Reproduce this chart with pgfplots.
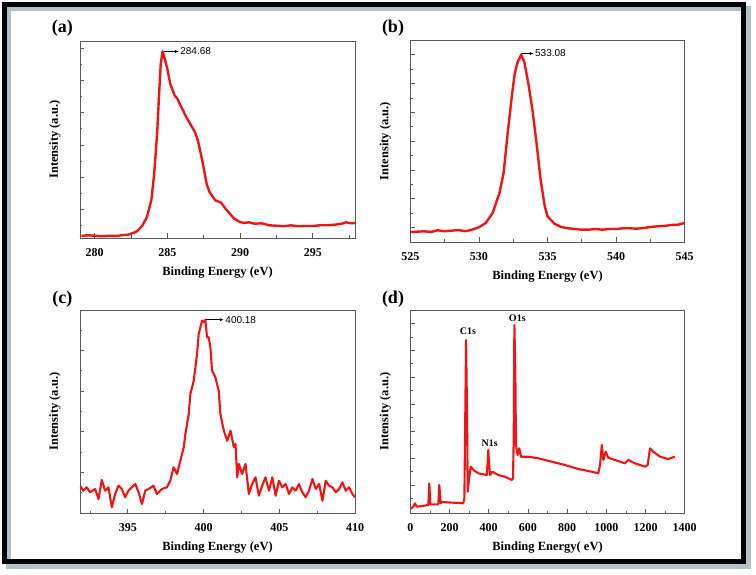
\documentclass[border=0pt]{standalone}
\usepackage{fontspec}
\setmainfont{Liberation Serif}
\newfontfamily\arialfont{Liberation Sans}
\usepackage{pgfplots}
\pgfplotsset{compat=1.18}
\usetikzlibrary{arrows.meta}
\definecolor{xpsred}{RGB}{240,20,20}
\definecolor{framegray}{RGB}{90,90,90}
\definecolor{shadowc}{RGB}{175,195,200}
\newcommand{\lblfont}{\fontsize{12.5}{13}\selectfont\bfseries}
\newcommand{\tckfont}{\fontsize{12}{13}\selectfont\bfseries}
\pgfplotsset{
  xpspanel/.style={
    scale only axis,
    anchor=south west,
    axis line style={draw=framegray, line width=0.9pt},
    tick style={draw=framegray, line width=0.8pt},
    tick align=inside,
    tick pos=left,
    major tick length=4.5pt,
    minor tick length=2.5pt,
    yticklabels={},
    /pgf/number format/assume math mode=true,
    /pgf/number format/1000 sep={},
    xticklabel={\tckfont\pgfmathprintnumber{\tick}},
    xticklabel style={anchor=center, yshift=-15pt},
    xlabel style={at={(axis description cs:0.5,0)}, anchor=center, yshift=-35pt},
    ylabel style={at={(axis description cs:0,0.5)}, anchor=center, yshift=25pt},
    xlabel={\lblfont Binding Energy (eV)},
    ylabel={\lblfont Intensity (a.u.)},
    clip=true,
  },
  xpsline/.style={xpsred, line width=2.4pt, line join=round, no marks},
}
\begin{document}
\begin{tikzpicture}[x=1pt,y=1pt]
\useasboundingbox (0pt,0pt) rectangle (756pt,574pt);
% outer frame
\draw[shadowc, line width=5pt] (8.5pt,8pt) rectangle (748pt,565pt);
\draw[black, line width=5.5pt] (4.3pt,12.5pt) rectangle (743.5pt,569.7pt);

% ---------------- (a) ----------------
\begin{axis}[xpspanel, at={(80pt,336pt)}, width=275pt, height=197pt,
  xmin=279, xmax=297.9, ymin=0, ymax=197,
  xtick={280,285,290,295}, minor xtick={282.5,287.5,292.5,297.5},
  ytick={28.3,60.6,92.9,125.2,157.5,189.8},
  minor ytick={12.2,44.5,76.8,109.1,141.4,173.7}]
\addplot[xpsline] coordinates {
(279.1,2) (279.5,2.7) (280,2.3) (280.5,1.7) (281,2.3) (281.5,2) (282,3) (282.3,3.3)
(282.5,4.3) (282.8,5.7) (283,7.7) (283.3,12.7) (283.6,21) (283.9,37.7) (284.1,64.3)
(284.3,104.3) (284.45,147.7) (284.55,174.3) (284.68,186.7) (284.85,177.7) (285.0,169.3)
(285.2,154.3) (285.5,142.7) (285.7,139) (285.9,132.7) (286.1,127) (286.3,121) (286.5,116)
(286.7,111) (286.9,106) (287.1,97.7) (287.4,77.7) (287.7,54.3) (287.9,46) (288.3,37.7)
(288.7,35.3) (289.0,29.3) (289.3,24.3) (289.6,19.3) (289.9,16.7) (290.0,16) (290.3,15)
(290.6,15.7) (291,14.3) (291.5,14.7) (292,12.7) (292.5,12.3) (293,11.7) (293.5,12.7)
(294,11.7) (294.5,12) (295,12) (295.5,12.7) (296,12.7) (296.5,13.3) (297,14.3)
(297.3,15.7) (297.6,14.7) (297.9,15)
};
\draw[-{Latex[length=4pt,width=3pt]}, black, line width=0.6pt] (axis cs:284.75,186.5) -- (axis cs:285.8,186.5);
\node[anchor=west, inner sep=0.5pt, font=\arialfont\fontsize{10}{10}\selectfont] at (axis cs:285.85,186.5) {284.68};
\end{axis}

% ---------------- (b) ----------------
\begin{axis}[xpspanel, at={(410.3pt,332pt)}, width=274.4pt, height=202pt,
  xmin=525, xmax=545, ymin=0, ymax=202,
  xtick={525,530,535,540,545}, minor xtick={527.5,532.5,537.5,542.5},
  ytick={14.3,43.1,71.9,100.7,129.5,158.3,187.1},
  minor ytick={28.7,57.5,86.3,115.1,143.9,172.7}]
\addplot[xpsline] coordinates {
(525,10) (525.5,10.3) (526,10.7) (526.5,10) (527,11.7) (527.5,10.7) (528,11.3) (528.5,12)
(529,10.7) (529.5,12.3) (530,14.7) (530.5,19) (531,29) (531.5,49) (531.8,69) (532.1,109)
(532.4,145.7) (532.6,167.3) (532.8,179) (533.08,187.3) (533.3,180.7) (533.6,159)
(533.9,132.3) (534.2,99) (534.5,62.3) (534.8,35.7) (535,25.7) (535.5,18.3) (536,15)
(536.5,13.7) (537,13) (537.5,12.3) (538,12.3) (538.5,13) (539,12.3) (539.5,13) (540,13)
(540.5,13.7) (541,13.7) (541.5,13.3) (542,14) (542.5,15) (543,15.7) (543.5,16) (544,17)
(544.5,17.3) (545,19)
};
\draw[-{Latex[length=4pt,width=3pt]}, black, line width=0.6pt] (axis cs:533.1,188.5) -- (axis cs:534.0,188.5);
\node[anchor=west, inner sep=0.5pt, font=\arialfont\fontsize{10}{10}\selectfont] at (axis cs:534.05,188.5) {533.08};
\end{axis}

% ---------------- (c) ----------------
\begin{axis}[xpspanel, at={(80pt,61pt)}, width=275pt, height=203pt,
  xmin=391.84, xmax=410, ymin=0, ymax=203,
  xtick={395,400,405,410}, minor xtick={392.5,397.5,402.5,407.5},
  ytick={40.7,81.3,122,162.6},
  minor ytick={20.3,61,101.7,142.3,182.9}]
\addplot[xpsline, line width=2.1pt] coordinates {
(391.84,27.3) (392.06,22.3) (392.28,25.7) (392.51,20.7) (392.84,24) (393.06,14) (393.28,33)
(393.50,22.3) (393.72,25.7) (393.94,5.7) (394.16,19) (394.38,27.3) (394.60,24) (394.82,15.7)
(395.04,22.3) (395.26,25.7) (395.49,29) (395.71,20.7) (395.93,9) (396.15,22.3) (396.37,24)
(396.70,27.3) (396.92,19) (397.25,24) (397.58,25.7) (397.80,32.3) (398.02,45.7) (398.25,39)
(398.47,52.3) (398.69,65.7) (398.80,79) (399.02,99) (399.13,119) (399.35,132.3) (399.57,159)
(399.68,179) (399.79,185.7) (399.90,192.3) (400.01,190.7) (400.12,193.3) (400.23,175.7)
(400.34,175.7) (400.45,165.7) (400.56,142.3) (400.78,135.7) (401.00,122.3) (401.11,99)
(401.34,82.3) (401.56,72.3) (401.78,82.3) (402.00,65.7) (402.11,69) (402.22,35.7) (402.33,49)
(402.55,39) (402.77,49) (402.99,19) (403.21,29) (403.43,35.7) (403.65,17.3) (403.87,27.3)
(404.09,35.7) (404.32,22.3) (404.54,35.7) (404.76,17.3) (404.98,32.3) (405.20,25.7)
(405.42,29) (405.64,19) (405.86,25.7) (406.08,22.3) (406.30,29) (406.52,20.7) (406.74,15.7)
(406.96,22.3) (407.19,34) (407.41,24) (407.63,29) (407.85,12.3) (408.07,32.3) (408.29,27.3)
(408.51,25.7) (408.73,20.7) (408.95,24) (409.17,30.7) (409.39,22.3) (409.61,25.7)
(409.83,19) (410.00,15.7)
};
\draw[-{Latex[length=4pt,width=3pt]}, black, line width=0.6pt] (axis cs:400.18,193.3) -- (axis cs:401.34,193.3);
\node[anchor=west, inner sep=0.5pt, font=\arialfont\fontsize{10}{10}\selectfont] at (axis cs:401.4,193.3) {400.18};
\end{axis}

% ---------------- (d) ----------------
\begin{axis}[xpspanel, at={(410.3pt,61pt)}, width=274.4pt, height=203pt,
  xmin=0, xmax=1400, ymin=0, ymax=203,
  xlabel={\lblfont Binding Energy( eV)},
  xtick={0,200,...,1400}, minor xtick={100,300,...,1300},
  ytick={28,54.9,81.8,108.7,135.6,162.5,189.4},
  minor ytick={14.6,41.5,68.4,95.3,122.2,149.1,176}]
\addplot[xpsline, line width=2.1pt] coordinates {
(0,4) (15,6.3) (24,9.7) (33,6.3) (60,7) (92,8) (97,29.7) (102,8.7) (143,8.7) (148,28)
(155,9.7) (160,11) (220,10.3) (270,9.7) (276,14.7) (281,108) (284.5,173) (289,108)
(293,21.3) (300,34.7) (308,46.3) (322,43) (347,39.7) (390,38) (395,51.3) (398,63)
(401.5,51) (406.6,38) (418,41.3) (449,38) (483,36.3) (517,33) (524,34.7) (527.6,74.7)
(531,188) (536,141.3) (539,68) (548,58) (556,64.7) (565,56.3) (602,56.3) (653,54.7)
(687,53) (789,48) (857,44) (925,41.3) (959,39.7) (968,48) (977,68) (985,53) (997,61.3)
(1010,55.3) (1044,53) (1095,49.7) (1112,53) (1146,49.7) (1197,46.3) (1211,48)
(1223,64.7) (1240,61.3) (1274,56.3) (1316,54) (1350,56.3)
};
\node[font=\fontsize{10}{10}\selectfont\bfseries] at (axis cs:294,181.7) {C1s};
\node[font=\fontsize{10}{10}\selectfont\bfseries] at (axis cs:546,194.3) {O1s};
\node[font=\fontsize{10}{10}\selectfont\bfseries] at (axis cs:405,69.3) {N1s};
\end{axis}

% panel letters
\node[font=\fontsize{18}{18}\selectfont\bfseries] at (62.3pt,545.7pt) {(a)};
\node[font=\fontsize{18}{18}\selectfont\bfseries] at (393pt,546pt) {(b)};
\node[font=\fontsize{18}{18}\selectfont\bfseries] at (62.3pt,274.7pt) {(c)};
\node[font=\fontsize{18}{18}\selectfont\bfseries] at (393pt,275pt) {(d)};
\end{tikzpicture}
\end{document}
